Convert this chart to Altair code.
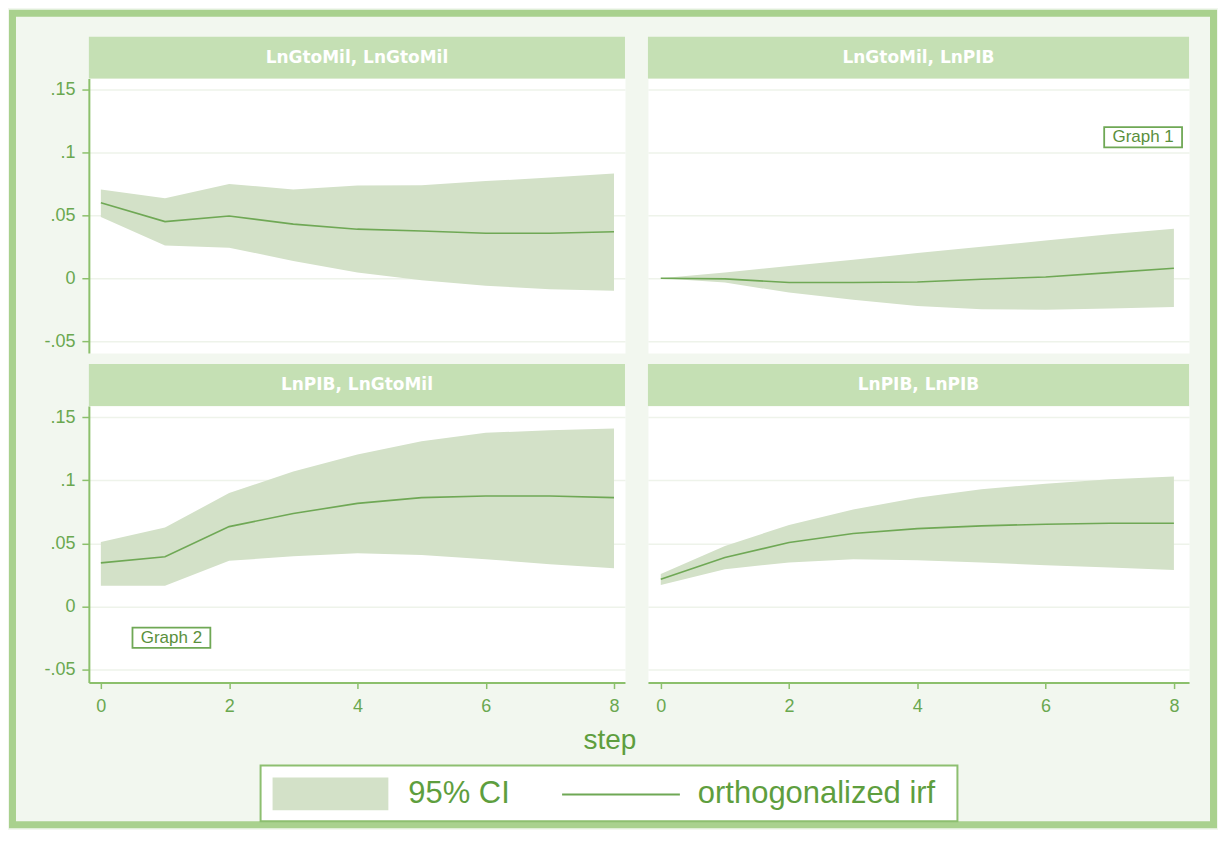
import altair as alt
import pandas as pd

# ---------------- data ----------------
steps = [0, 1, 2, 3, 4, 5, 6, 7, 8]
panel_titles = ["LnGtoMil, LnGtoMil", "LnGtoMil, LnPIB", "LnPIB, LnGtoMil", "LnPIB, LnPIB"]

irf_gg = [0.060, 0.045, 0.0495, 0.043, 0.039, 0.0376, 0.0357, 0.0357, 0.037]
lo_gg = [0.0487, 0.026, 0.0243, 0.0138, 0.0045, -0.0016, -0.006, -0.0087, -0.010]
hi_gg = [0.0706, 0.0635, 0.075, 0.0706, 0.0738, 0.074, 0.0772, 0.080, 0.0833]

irf_gp = [0.0, -0.0005, -0.0034, -0.0034, -0.003, -0.0008, 0.001, 0.0045, 0.008]
lo_gp = [0.0, -0.0034, -0.0114, -0.017, -0.022, -0.0246, -0.025, -0.024, -0.0228]
hi_gp = [0.0, 0.0045, 0.0098, 0.0146, 0.020, 0.025, 0.030, 0.035, 0.0394]

irf_pg = [0.0347, 0.0395, 0.0634, 0.0737, 0.0818, 0.0863, 0.0876, 0.0876, 0.0863]
lo_pg = [0.0166, 0.0166, 0.0363, 0.040, 0.0424, 0.041, 0.0376, 0.0337, 0.0305]
hi_pg = [0.0513, 0.0626, 0.090, 0.107, 0.1205, 0.131, 0.1376, 0.1397, 0.141]

irf_pp = [0.0218, 0.039, 0.0508, 0.058, 0.0618, 0.064, 0.0653, 0.066, 0.066]
lo_pp = [0.0171, 0.0297, 0.035, 0.0376, 0.0368, 0.035, 0.0329, 0.031, 0.029]
hi_pp = [0.0258, 0.048, 0.0647, 0.077, 0.0863, 0.093, 0.0974, 0.1008, 0.103]

x_ticks = [0, 2, 4, 6, 8]
y_ticks = [-0.05, 0, 0.05, 0.1, 0.15]

note_panel = [1, 2]
note_text = ["Graph 1", "Graph 2"]
note_step = [7.52, 1.1]
note_value = [0.112, -0.0245]

legend_labels = ["95% CI", "orthogonalized irf"]
x_title = "step"

# ---------------- styles ----------------
BG = "#f2f7ef"
FRAME = "#a9d18e"
HEADER = "#c5e0b4"
CI = "#d3e1c8"
LINE = "#6fa855"
AXIS = "#8cc06c"
LABEL = "#6aa84f"
TEXT = "#5e9e3e"
GRID = "#eef3ea"
FONT = "Liberation Sans"

IRF = [irf_gg, irf_gp, irf_pg, irf_pp]
LO = [lo_gg, lo_gp, lo_pg, lo_pp]
HI = [hi_gg, hi_gp, hi_pg, hi_pp]

Y_LABEL_EXPR = ("datum.value == 0 ? '0' : "
                "replace(replace(format(datum.value, '.2~f'), '0.', '.'), '\u2212', '-')")


def frame_layer():
    fdf = pd.DataFrame({"f": [0]})
    return alt.Chart(fdf).mark_rect(
        fill="transparent", stroke=FRAME, strokeWidth=7).encode(
        x=alt.value(-76.5), x2=alt.value(1126.5), y=alt.value(-65.5), y2=alt.value(747.5))


def legend_layers():
    # positions relative to the bottom-left panel's plot area
    one = pd.DataFrame({"k": [0]})
    step_df = pd.DataFrame({"t": [x_title]})
    l1 = pd.DataFrame({"t": [legend_labels[0]]})
    l2 = pd.DataFrame({"t": [legend_labels[1]]})
    step_txt = alt.Chart(step_df).mark_text(
        fontSize=28, font=FONT, color=TEXT, align="center", baseline="middle").encode(
        x=alt.value(522), y=alt.value(336), text="t:N")
    leg_box = alt.Chart(one).mark_rect(fill="white", stroke="#8dbf70", strokeWidth=2).encode(
        x=alt.value(172), x2=alt.value(870), y=alt.value(360), y2=alt.value(416))
    leg_sw = alt.Chart(one).mark_rect(fill=CI).encode(
        x=alt.value(184), x2=alt.value(300), y=alt.value(372), y2=alt.value(405))
    leg_t1 = alt.Chart(l1).mark_text(
        fontSize=31, font=FONT, color=TEXT, align="left", baseline="middle").encode(
        x=alt.value(320), y=alt.value(389), text="t:N")
    leg_ln = alt.Chart(one).mark_rule(color=LINE, strokeWidth=2).encode(
        x=alt.value(474), x2=alt.value(592), y=alt.value(389))
    leg_t2 = alt.Chart(l2).mark_text(
        fontSize=31, font=FONT, color=TEXT, align="left", baseline="middle").encode(
        x=alt.value(610), y=alt.value(389), text="t:N")
    return [step_txt, leg_box, leg_sw, leg_t1, leg_ln, leg_t2]


def panel(i, W, H, xdom, ydom, show_y, show_x, frame=False, legend=False):
    df = pd.DataFrame({"step": steps, "irf": IRF[i], "lo": LO[i], "hi": HI[i]})
    xs = alt.Scale(domain=xdom, nice=False, zero=False)
    ys = alt.Scale(domain=ydom, nice=False, zero=False)
    if show_x:
        xax = alt.Axis(values=x_ticks, title=None, grid=False, format="d",
                       domainColor=AXIS, domainWidth=2, tickColor=AXIS, tickWidth=1.5,
                       tickSize=6, labelColor=LABEL, labelFontSize=18, labelFont=FONT,
                       labelPadding=9)
    else:
        xax = None
    if show_y:
        yax = alt.Axis(values=y_ticks, title=None, grid=True, gridColor=GRID, gridWidth=1.5,
                       domainColor=AXIS, domainWidth=2, tickColor=AXIS, tickWidth=1.5,
                       tickSize=7, labelColor=LABEL, labelFontSize=18, labelFont=FONT,
                       labelPadding=7, labelExpr=Y_LABEL_EXPR)
    else:
        yax = alt.Axis(values=y_ticks, title=None, grid=True, gridColor=GRID, gridWidth=1.5,
                       labels=False, ticks=False, domain=False)

    base = alt.Chart(df)
    area = base.mark_area(color=CI, opacity=1).encode(
        x=alt.X("step:Q", scale=xs, axis=xax),
        y=alt.Y("lo:Q", scale=ys, axis=yax),
        y2="hi:Q",
    )
    line = base.mark_line(color=LINE, strokeWidth=1.6).encode(
        x=alt.X("step:Q", scale=xs, axis=xax),
        y=alt.Y("irf:Q", scale=ys, axis=yax),
    )
    hdf = pd.DataFrame({"t": [panel_titles[i]]})
    head_rect = alt.Chart(hdf).mark_rect(fill=HEADER).encode(
        x=alt.value(0), x2=alt.value(W), y=alt.value(-42), y2=alt.value(0))
    head_text = alt.Chart(hdf).mark_text(
        color="white", fontWeight="bold", fontSize=17, font="DejaVu Sans",
        baseline="middle", align="center").encode(
        x=alt.value(W / 2), y=alt.value(-21), text="t:N")
    layers = []
    if frame:
        layers.append(frame_layer())
    layers += [head_rect, head_text, area, line]

    ndf = pd.DataFrame({"panel": note_panel, "text": note_text,
                        "step": note_step, "value": note_value})
    ndf = ndf[ndf["panel"] == i]
    if len(ndf):
        box = alt.Chart(ndf).mark_point(
            shape="M-1,-0.26H1V0.26H-1Z", size=6084, filled=False,
            stroke=LINE, strokeWidth=1.8, opacity=1).encode(
            x=alt.X("step:Q", scale=xs, axis=xax),
            y=alt.Y("value:Q", scale=ys, axis=yax))
        txt = alt.Chart(ndf).mark_text(
            color="#5a8f3c", fontSize=17, font=FONT, baseline="middle", align="center").encode(
            x=alt.X("step:Q", scale=xs, axis=xax),
            y=alt.Y("value:Q", scale=ys, axis=yax),
            text="text:N")
        layers += [box, txt]
    if legend:
        layers += legend_layers()
    return alt.layer(*layers).properties(width=W, height=H)


XL = [-0.187, 8.171]
XR = [-0.2, 8.236]
YT = [-0.0595, 0.1587]
YB = [-0.060, 0.1588]

p1 = panel(0, 537, 275, XL, YT, True, False, frame=True)
p2 = panel(1, 542, 275, XR, YT, False, False)
p3 = panel(2, 537, 277, XL, YB, True, True, legend=True)
p4 = panel(3, 542, 277, XR, YB, False, True)

chart = alt.concat(p1, p2, p3, p4, columns=2, bounds="flush",
                   spacing=alt.RowColnumber(row=53, column=23),
                   background=BG, padding=0).configure_view(
    stroke="transparent", fill="white")

chart.save("out.html", embed_options={"renderer": "svg", "actions": False})
